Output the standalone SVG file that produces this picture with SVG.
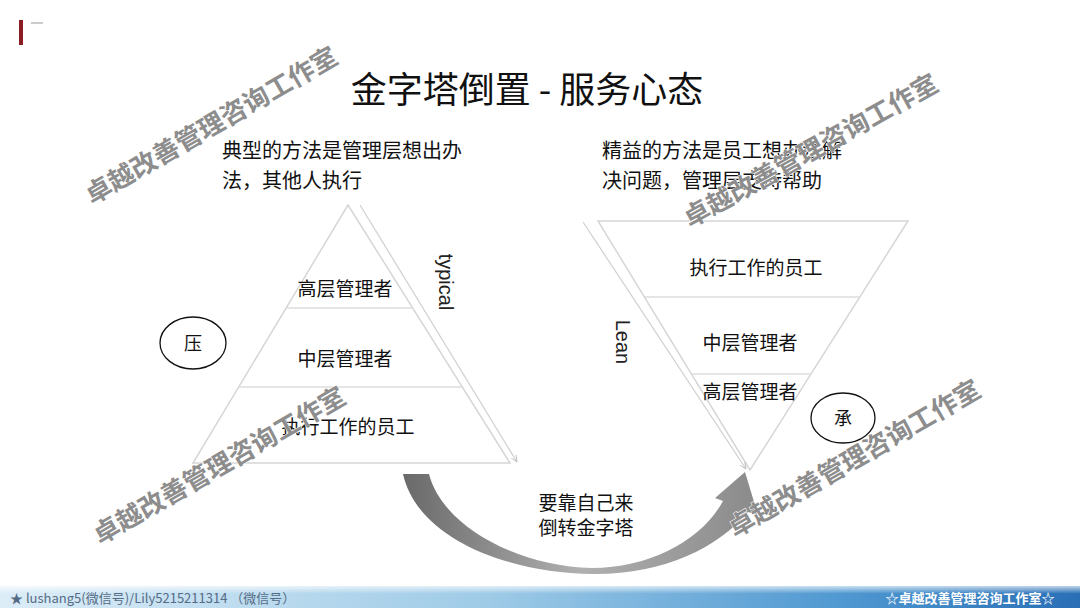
<svg xmlns="http://www.w3.org/2000/svg" width="1080" height="608" viewBox="0 0 1080 608">
<defs>
<style>
.t{font-family:"Noto Sans CJK SC","Liberation Sans",sans-serif;fill:#111}
.lat{font-family:"Liberation Sans","Noto Sans",sans-serif;fill:#222}
.tri{fill:none;stroke:#d6d6d6;stroke-width:1.5}
.layer{stroke:#dcdcdc;stroke-width:1.5}
.side{stroke:#cfcfcf;stroke-width:1.2;fill:none;marker-end:url(#ah)}
.wm{font-family:"Noto Sans CJK SC",sans-serif;font-size:26px;font-weight:bold;fill:#8d8d8d;stroke:#ffffff;stroke-width:1;paint-order:stroke}
.oval{fill:none;stroke:#111;stroke-width:1.3}
</style>
<marker id="ah" viewBox="0 0 10 10" refX="9" refY="5" markerWidth="6" markerHeight="6" orient="auto"><path d="M0,1 L9,5 L0,9" fill="none" stroke="#bdbdbd" stroke-width="1.2"/></marker>
<linearGradient id="arr" x1="404" y1="0" x2="758" y2="0" gradientUnits="userSpaceOnUse">
<stop offset="0" stop-color="#6a6a6a"/><stop offset="0.5" stop-color="#b0b0b0"/><stop offset="1" stop-color="#8a8a8a"/>
</linearGradient>
<linearGradient id="foot" x1="0" y1="0" x2="1" y2="0">
<stop offset="0" stop-color="#dcedf8"/><stop offset="0.45" stop-color="#9fcbe7"/><stop offset="0.78" stop-color="#4f98d1"/><stop offset="1" stop-color="#2a6fb6"/>
</linearGradient>
<linearGradient id="footfade" x1="0" y1="0" x2="0" y2="1">
<stop offset="0" stop-color="#ffffff" stop-opacity="0.7"/><stop offset="0.35" stop-color="#ffffff" stop-opacity="0"/>
</linearGradient>
</defs>
<rect width="1080" height="608" fill="#ffffff"/>
<g id="corner">
<rect x="19" y="20" width="4" height="25" fill="#8b1c24"/>
<line x1="31" y1="23" x2="43" y2="23" stroke="#999" stroke-width="1"/>
</g>
<g id="title"><text class="t" x="527" y="103" font-size="36" text-anchor="middle">金字塔倒置 - 服务心态</text></g>
<g id="left-desc">
<text class="t" x="222" y="158" font-size="20">典型的方法是管理层想出办</text>
<text class="t" x="222" y="188" font-size="20">法，其他人执行</text>
</g>
<g id="right-desc">
<text class="t" x="602" y="158" font-size="20">精益的方法是员工想办法解</text>
<text class="t" x="602" y="188" font-size="20">决问题，管理层支持帮助</text>
</g>
<g id="left-pyramid">
<polygon class="tri" points="348,205 193,463 510,463"/>
<line class="layer" x1="286" y1="308" x2="413" y2="308"/>
<line class="layer" x1="239" y1="387" x2="462" y2="387"/>
<text class="t" x="345" y="296" font-size="19" text-anchor="middle">高层管理者</text>
<text class="t" x="345" y="366" font-size="19" text-anchor="middle">中层管理者</text>
<text class="t" x="348" y="434" font-size="19" text-anchor="middle">执行工作的员工</text>
</g>
<g id="typical">
<text class="lat" font-size="20" text-anchor="middle" transform="translate(439,282) rotate(90)">typical</text>
</g>
<g id="press">
<ellipse class="oval" cx="193" cy="343" rx="33" ry="26"/>
<text class="t" x="193" y="350" font-size="18" text-anchor="middle">压</text>
</g>
<g id="right-pyramid">
<polygon class="tri" points="598,221 908,221 750,470"/>
<line class="layer" x1="644" y1="297" x2="860" y2="297"/>
<line class="layer" x1="691" y1="374" x2="811" y2="374"/>
<text class="t" x="756" y="275" font-size="19" text-anchor="middle">执行工作的员工</text>
<text class="t" x="750" y="350" font-size="19" text-anchor="middle">中层管理者</text>
<text class="t" x="750" y="399" font-size="19" text-anchor="middle">高层管理者</text>
</g>
<g id="lean">
<text class="lat" font-size="20" text-anchor="middle" transform="translate(616,342) rotate(90)">Lean</text>
</g>
<g id="bear">
<ellipse class="oval" cx="843" cy="418" rx="32" ry="25"/>
<text class="t" x="843" y="425" font-size="18" text-anchor="middle">承</text>
</g>
<g id="connectors">
<line class="side" x1="360" y1="205" x2="517" y2="462"/>
<line class="side" x1="583" y1="222" x2="746" y2="469"/>
<path d="M403 474 L429 474 C442 525 515 566 592 568 C650 568 702 540 723 501 L715 498 L745 472 L758 515 L748 512 C718 548 662 575 592 574 C510 573 418 540 403 474 Z" fill="url(#arr)"/>
</g>
<g id="arrow-label">
<text class="t" x="586" y="510" font-size="19" text-anchor="middle">要靠自己来</text>
<text class="t" x="586" y="535" font-size="19" text-anchor="middle">倒转金字塔</text>
</g>
<g id="footer">
<rect x="0" y="586" width="1080" height="22" fill="url(#foot)"/>
<rect x="0" y="586" width="1080" height="22" fill="url(#footfade)"/>
<text class="t" x="10" y="603" font-size="13" style="fill:#556b85">★ lushang5(微信号)/Lily5215211314 （微信号）</text>
<text class="t" x="970" y="603" font-size="13" font-weight="bold" text-anchor="middle" style="fill:#ffffff">☆卓越改善管理咨询工作室☆</text>
</g>
<g id="watermarks">
<text class="wm" transform="translate(92,205) rotate(-30)">卓越改善管理咨询工作室</text>
<text class="wm" transform="translate(690,228) rotate(-29)">卓越改善管理咨询工作室</text>
<text class="wm" transform="translate(100,545) rotate(-30)">卓越改善管理咨询工作室</text>
<text class="wm" transform="translate(735,538) rotate(-30)">卓越改善管理咨询工作室</text>
</g>
</svg>
